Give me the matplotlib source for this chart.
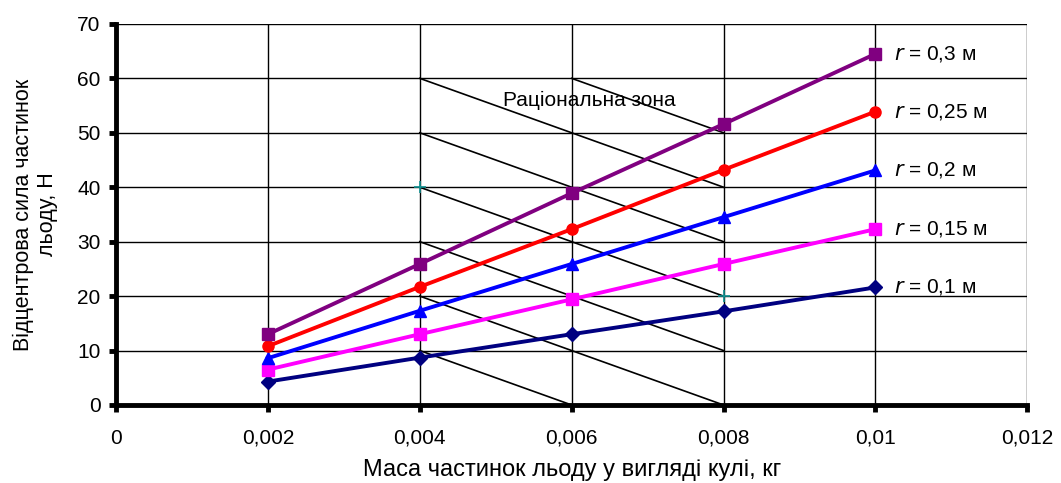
import matplotlib.pyplot as plt
from matplotlib.ticker import FuncFormatter

plt.rcParams['font.family'] = ['Liberation Sans', 'DejaVu Sans']

# маса частинок, кг
mass = [0.002, 0.004, 0.006, 0.008, 0.01]
# відцентрова сила для різних радіусів, Н
f_r01 = [4.3, 8.7, 13.0, 17.2, 21.6]
f_r015 = [6.5, 13.0, 19.4, 25.9, 32.3]
f_r02 = [8.6, 17.3, 25.9, 34.5, 43.1]
f_r025 = [10.8, 21.7, 32.3, 43.2, 53.9]
f_r03 = [13.0, 25.9, 38.9, 51.6, 64.5]
labels = ['0,1', '0,15', '0,2', '0,25', '0,3']

# штрихування раціональної зони: (x0, y0, x1, y1)
zone_x0 = [0.004, 0.004, 0.004, 0.004, 0.004, 0.004, 0.006]
zone_y0 = [60, 50, 40, 30, 20, 10, 60]
zone_x1 = [0.008, 0.008, 0.008, 0.008, 0.008, 0.006, 0.008]
zone_y1 = [40, 30, 20, 10, 0, 0, 50]
cross_x = [0.004, 0.008]
cross_y = [40, 20]

fig = plt.figure(figsize=(10.61, 4.83), dpi=100)
ax = fig.add_axes([0.1093, 0.1615, 0.859, 0.789])

ax.grid(True, color='black', lw=1.0)
ax.set_axisbelow(True)

for x0, y0, x1, y1 in zip(zone_x0, zone_y0, zone_x1, zone_y1):
    ax.plot([x0, x1], [y0, y1], color='black', lw=1.2, zorder=2)
ax.plot(cross_x, cross_y, ls='none', marker='+', color='#109090', ms=8, mew=1.2, zorder=3)

series = [
    (f_r01, '#000080', 'D', 7),
    (f_r015, '#ff00ff', 's', 8),
    (f_r02, '#0000ff', '^', 9),
    (f_r025, '#ff0000', 'o', 8),
    (f_r03, '#800080', 's', 9),
]
for (vals, col, mk, ms), lab in zip(series, labels):
    ax.plot(mass, vals, color=col, lw=2.8, marker=mk, ms=ms, zorder=4)
    ax.text(mass[-1] + 0.00025, vals[-1], '$r$ = ' + lab + ' м',
            fontsize=15, va='center', ha='left', zorder=5)

ax.text(0.00509, 56, 'Раціональна зона', fontsize=15, va='center', ha='left')

ax.set_xlim(0, 0.012)
ax.set_ylim(0, 70)
ax.set_xticks([0, 0.002, 0.004, 0.006, 0.008, 0.01, 0.012])
ax.set_yticks(range(0, 71, 10))
ax.xaxis.set_major_formatter(FuncFormatter(lambda v, p: ('%g' % round(v, 4)).replace('.', ',')))

for s in ['top', 'right']:
    ax.spines[s].set_visible(False)
ax.spines['left'].set_linewidth(3.5)
ax.spines['bottom'].set_linewidth(3.5)
ax.tick_params(axis='both', which='major', labelsize=15, width=3.5, length=5, direction='out')
ax.tick_params(axis='x', pad=12)
ax.tick_params(axis='y', pad=6)

ax.set_xlabel('Маса частинок льоду у вигляді кулі, кг', fontsize=17, labelpad=8)
ax.set_ylabel('Відцентрова сила частинок\nльоду, Н', fontsize=15.5, labelpad=14,
              linespacing=1.2)

plt.savefig('out.png', dpi=100)
